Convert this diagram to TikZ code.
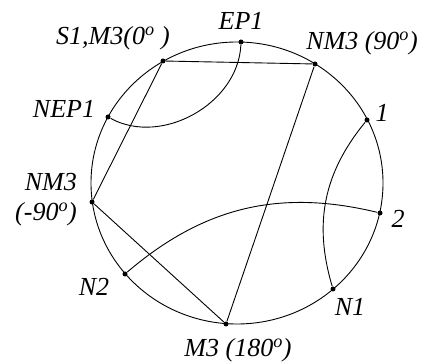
\documentclass[tikz,border=0pt]{standalone}
\usepackage{fontspec}
\setmainfont{Liberation Serif}
\usetikzlibrary{positioning}

\begin{document}
\begin{tikzpicture}[x=1pt, y=1pt, line width=0.9pt,
  pt/.style={circle, fill, inner sep=0pt, minimum size=5pt},
  lbl/.style={font=\fontsize{26}{30}\selectfont\itshape, inner sep=0pt, align=right}]
  \useasboundingbox (0,0) rectangle (428,363);
  \draw (237,180) ellipse [x radius=146, y radius=141];
  % points on the circle
  \node[pt] (ep1) at (241,321) {};
  \node[pt] (s1) at (163,302) {};
  \node[pt] (nm3a) at (315,299) {};
  \node[pt] (nep1) at (108,246) {};
  \node[pt] (p1) at (367,243) {};
  \node[pt] (nm3b) at (92,161) {};
  \node[pt] (p2) at (380,150) {};
  \node[pt] (n2) at (125,89) {};
  \node[pt] (n1) at (333,74) {};
  \node[pt] (m3) at (226,39) {};
  % labels
  \node[lbl] (ep1t) at (241,342) {EP1};
  \node[lbl] (s1t) at (113,325) {S1,M3(0\textsuperscript{o} )};
  \node[lbl] (nm3at) at (362,320) {NM3 (90\textsuperscript{o})};
  \node[lbl] (nep1t) at (64,254) {NEP1};
  \node[lbl] (p1t) at (382,250) {1};
  \node[lbl] (nm3bt) at (46,163) {NM3\\(-90\textsuperscript{o})};
  \node[lbl] (p2t) at (398,144) {2};
  \node[lbl] (n2t) at (94,76) {N2};
  \node[lbl] (n1t) at (350,56) {N1};
  \node[lbl] (m3t) at (238,13) {M3 (180\textsuperscript{o})};
  % chords
  \draw (s1) -- (nm3a);
  \draw (s1) -- (nm3b);
  \draw (nm3a) -- (m3);
  \draw (nm3b) -- (m3);
  % arcs
  \draw (ep1) to[bend left=58] (nep1);
  \draw (p1) to[bend right=28] (n1);
  \draw (p2) to[bend right=27] (n2);
\end{tikzpicture}
\end{document}
